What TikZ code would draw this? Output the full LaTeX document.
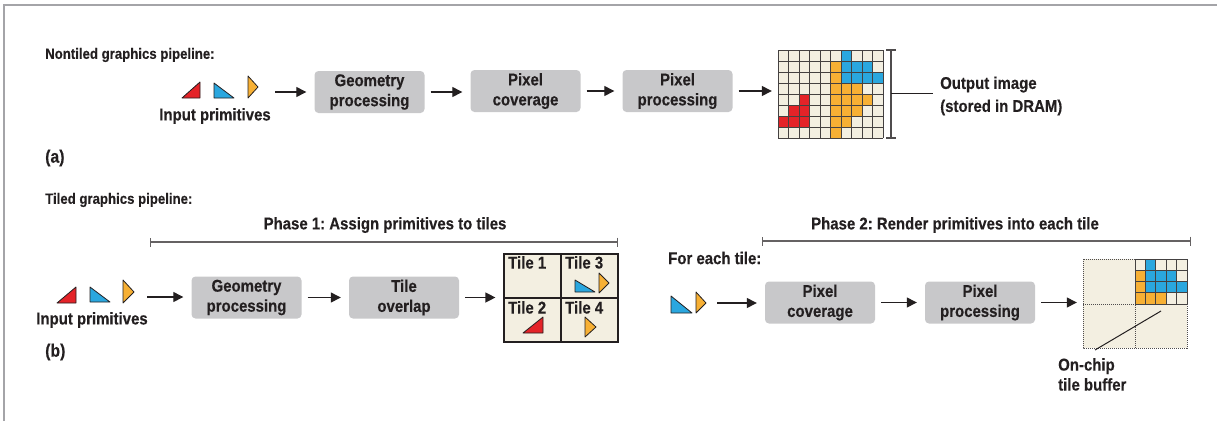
\documentclass[tikz,border=0pt]{standalone}
\usepackage{fontspec}
\setmainfont{Liberation Sans}[FakeStretch=0.88, BoldFeatures={FakeBold=0.3}]
\usetikzlibrary{arrows.meta}
\definecolor{pr}{HTML}{E42328}
\definecolor{pb}{HTML}{2AA7DF}
\definecolor{po}{HTML}{F7B034}
\definecolor{cream}{HTML}{F3EFE1}
\definecolor{boxgray}{HTML}{C8C8CA}
\definecolor{framegray}{HTML}{A4A4A8}
\definecolor{ink}{HTML}{231F20}
\frenchspacing
\begin{document}
\begin{tikzpicture}[x=1pt,y=-1pt,
  font=\bfseries\fontsize{17}{20}\selectfont, text=ink,
  proc/.style={fill=boxgray, rounded corners=4pt, minimum width=110pt, minimum height=42pt, align=center, inner sep=0pt},
  arr/.style={-{Triangle[length=10pt,width=10pt]}, line width=1.3pt, draw=ink, shorten <=6pt, shorten >=8pt},
  grp/.style={inner sep=0pt, minimum height=24pt},
  tri/.style={draw=ink, line width=0.8pt, line join=round},
  cell/.style={draw=ink!85, line width=1pt},
  bar/.style={{Bar[width=9pt]}-{Bar[width=9pt]}, line width=1.2pt, draw=ink!70},
  ttl/.style={inner sep=0pt, anchor=west, font=\bfseries\fontsize{15}{18}\selectfont},
  lbl/.style={inner sep=0pt, anchor=west},
  phase/.style={font=\bfseries\fontsize{17}{20}\selectfont}]
\useasboundingbox (0,0) rectangle (1217,421);
% frame
\draw[framegray, line width=1.5pt] (4,421) -- (4,5) -- (1217,5);

% ---------------- (a) ----------------
\node[ttl] (titleA) at (45,55) {Nontiled graphics pipeline:};
\node[lbl] (labA) at (45,158) {\fontsize{18}{18}\selectfont(a)};

\filldraw[tri, fill=pr] (182,98) -- (200,82) -- (200,98) -- cycle;
\filldraw[tri, fill=pb] (214,83) -- (214,98) -- (234,98) -- cycle;
\filldraw[tri, fill=po] (248,76) -- (248,98) -- (258,87) -- cycle;
\node[grp, minimum width=86pt] (prA) at (226,92) {};
\node (ipA) at (215,116) {Input primitives};

\node[proc] (g1) at (369.5,92) {Geometry\\processing};
\node[proc] (pc1) at (525.5,91) {Pixel\\coverage};
\node[proc] (pp1) at (677.5,91) {Pixel\\processing};
\node[inner sep=0pt, minimum width=105pt, minimum height=88pt] (gridA) at (830.5,94) {};

\draw[arr, shorten <=6pt] (prA.east) -- (g1.west |- prA.east);
\draw[arr] (g1.east) -- (g1.east -| pc1.west);
\draw[arr] (pc1.east) -- (pc1.east -| pp1.west);
\draw[arr, shorten >=6pt] (pp1.east) -- (pp1.east -| gridA.west);

% grid a
\fill[cream] (778,50) rectangle (883,138);
\foreach \r/\c/\col in {0/6/pb,
  1/5/po,1/6/pb,1/7/pb,1/8/pb,
  2/5/po,2/6/pb,2/7/pb,2/8/pb,2/9/pb,
  3/5/po,3/6/po,3/7/po,
  4/2/pr,4/5/po,4/6/po,4/7/po,4/8/po,
  5/1/pr,5/2/pr,5/5/po,5/6/po,5/7/po,
  6/0/pr,6/1/pr,6/2/pr,6/5/po,6/6/po,
  7/5/po}
  \fill[\col] (778+\c*10.5,50+\r*11) rectangle ++(10.5,11);
\foreach \i in {0,...,10} \draw[cell] (778+\i*10.5,50) -- (778+\i*10.5,138);
\foreach \j in {0,...,8} \draw[cell] (778,50+\j*11) -- (883,50+\j*11);

% bracket
\draw[line width=1.2pt, draw=ink!80] (886,50) -- (896,50) (891,50) -- (891,138) (886,138) -- (896,138);
\coordinate (brk) at (891,93);
\node[lbl, align=left, anchor=west, font=\bfseries\fontsize{17}{23}\selectfont] (outA) at (940,96) {Output image\\(stored in DRAM)};
\draw[line width=1pt, draw=ink, shorten >=7pt] (brk) -- (outA.west |- brk);

% ---------------- (b) ----------------
\node[ttl] (titleB) at (45,200) {Tiled graphics pipeline:};
\node[lbl] (labB) at (45,352) {\fontsize{18}{18}\selectfont(b)};

\node[phase] (ph1) at (385,225) {Phase 1: Assign primitives to tiles};
\coordinate (p1a) at (150,242); \coordinate (p1b) at (618,242);
\draw[bar] (p1a) -- (p1b);
\node[phase] (ph2) at (955,225) {Phase 2: Render primitives into each tile};
\coordinate (p2a) at (762,241); \coordinate (p2b) at (1191,241);
\draw[bar] (p2a) -- (p2b);

\filldraw[tri, fill=pr] (57,303) -- (76,287) -- (76,303) -- cycle;
\filldraw[tri, fill=pb] (90,287) -- (90,302) -- (110,302) -- cycle;
\filldraw[tri, fill=po] (123,280) -- (123,303) -- (134,292) -- cycle;
\node[grp, minimum width=92pt] (prB) at (95,297) {};
\node (ipB) at (92,320) {Input primitives};

\node[proc] (g2) at (246.5,297.5) {Geometry\\processing};
\node[proc] (to2) at (404,297.5) {Tile\\overlap};
\node[draw=ink, line width=1.2pt, fill=cream, inner sep=0pt, minimum width=114pt, minimum height=88pt] (tiles) at (561,298) {};
\draw[arr] (prB.east) -- (prB.east -| g2.west);
\draw[arr] (g2.east) -- (g2.east -| to2.west);
\draw[arr] (to2.east) -- (to2.east -| tiles.west);

\draw[line width=1.2pt, draw=ink] (tiles.north) -- (tiles.south) (tiles.west) -- (tiles.east);
\node[inner sep=0pt, anchor=north west] (t1) at (508,256) {Tile 1};
\node[inner sep=0pt, anchor=north west] (t3) at (565,256) {Tile 3};
\node[inner sep=0pt, anchor=north west] (t2) at (508,301) {Tile 2};
\node[inner sep=0pt, anchor=north west] (t4) at (565,301) {Tile 4};
\filldraw[tri, fill=pb] (575,280) -- (575,292) -- (595,292) -- cycle;
\filldraw[tri, fill=po] (599,273) -- (599,293) -- (609,283) -- cycle;
\filldraw[tri, fill=pr] (523,333) -- (543,317) -- (543,333) -- cycle;
\filldraw[tri, fill=po] (585,317) -- (585,337) -- (596,327) -- cycle;

% phase 2
\node[lbl] (fet) at (668,258) {For each tile:};
\filldraw[tri, fill=pb] (671,296) -- (671,313) -- (692,313) -- cycle;
\filldraw[tri, fill=po] (696,292) -- (696,313) -- (706,303) -- cycle;
\node[grp, minimum width=40pt] (prC) at (690,303) {};
\node[proc] (pc2) at (820,302.5) {Pixel\\coverage};
\node[proc] (pp2) at (980,302.5) {Pixel\\processing};
\node[inner sep=0pt, minimum width=104pt, minimum height=89pt] (buf) at (1135,303.5) {};
\draw[arr, shorten <=7pt] (prC.east) -- (prC.east -| pc2.west);
\draw[arr] (pc2.east) -- (pc2.east -| pp2.west);
\draw[arr, shorten >=6pt] (pp2.east) -- (pp2.east -| buf.west);

\fill[cream] (1083,259) rectangle (1187,348);
\draw[densely dotted, line width=1pt, draw=ink!80] (1083,259) rectangle (1187,348) (1135,259) -- (1135,348) (1083,304) -- (1187,304);
\foreach \r/\c/\col in {0/1/pb,1/0/po,1/1/pb,1/2/pb,1/3/pb,2/0/po,2/1/pb,2/2/pb,2/3/pb,2/4/pb,3/0/po,3/1/po,3/2/po}
  \fill[\col] (1135+\c*10.4,259+\r*11.25) rectangle ++(10.4,11.25);
\foreach \i in {0,...,5} \draw[cell] (1135+\i*10.4,259) -- (1135+\i*10.4,304);
\foreach \j in {0,...,4} \draw[cell] (1135,259+\j*11.25) -- (1187,259+\j*11.25);

\coordinate (bufpt) at (1161,311);
\node[inner sep=0pt, anchor=north west, align=left] (ocb) at (1058,358) {On-chip\\tile buffer};
\draw[line width=1pt, draw=ink] (bufpt) -- (1095,350);
\end{tikzpicture}
\end{document}
